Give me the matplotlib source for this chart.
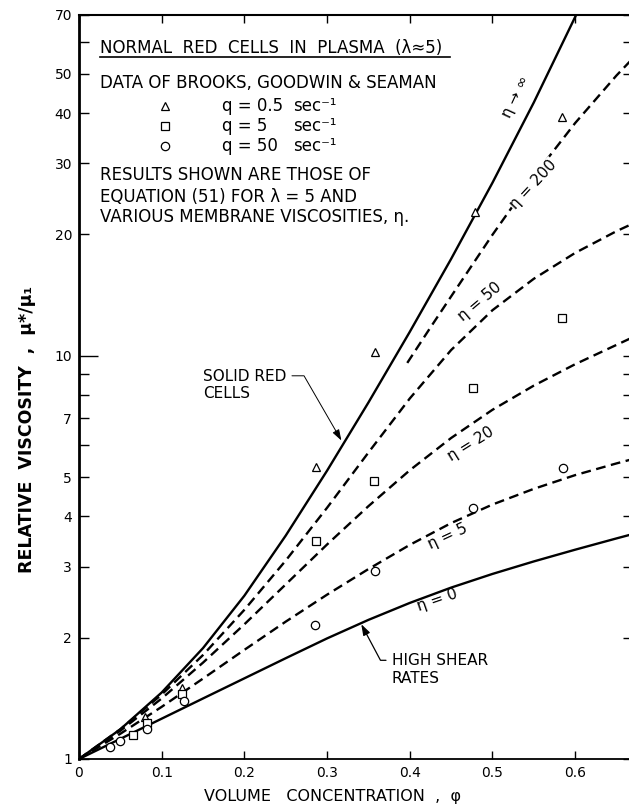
import matplotlib.pyplot as plt
from matplotlib.ticker import FixedLocator, NullFormatter

plt.rcParams['font.family'] = ['DejaVu Sans']
plt.rcParams['lines.scale_dashes'] = False

# --- curves (volume concentration phi vs relative viscosity) ---
phi = [0, 0.05, 0.1, 0.15, 0.2, 0.25, 0.3, 0.35, 0.4, 0.45, 0.5, 0.55, 0.6, 0.65, 0.67]

phi_inf = [0, 0.05, 0.1, 0.15, 0.2, 0.25, 0.3, 0.35, 0.4, 0.45, 0.5, 0.55, 0.6, 0.605]
mu_inf = [1, 1.185, 1.462, 1.884, 2.541, 3.581, 5.188, 7.656, 11.46, 17.38, 26.85, 42.46, 69.2, 72.8]

mu_0 = [1, 1.122, 1.259, 1.413, 1.585, 1.778, 1.991, 2.213, 2.438, 2.661, 2.877, 3.090, 3.304, 3.524, 3.614]
mu_5 = [1, 1.155, 1.347, 1.583, 1.865, 2.191, 2.556, 2.958, 3.396, 3.846, 4.276, 4.677, 5.058, 5.408, 5.546]
mu_20 = [1, 1.175, 1.413, 1.734, 2.158, 2.710, 3.404, 4.236, 5.200, 6.252, 7.345, 8.433, 9.528, 10.64, 11.12]
mu_50 = [1, 1.185, 1.445, 1.811, 2.344, 3.105, 4.198, 5.754, 7.834, 10.33, 12.97, 15.52, 17.99, 20.37, 21.28]

phi_200 = [0.397, 0.425, 0.45, 0.5, 0.55, 0.6, 0.65, 0.67]
mu_200 = [9.6, 11.75, 14.03, 19.95, 27.86, 37.76, 49.55, 54.7]

# --- data of Brooks, Goodwin & Seaman ---
tri_x = [0.08, 0.124, 0.287, 0.358, 0.479, 0.584]
tri_y = [1.27, 1.50, 5.3, 10.2, 22.7, 39.2]
sq_x = [0.065, 0.082, 0.125, 0.287, 0.357, 0.477, 0.584]
sq_y = [1.15, 1.23, 1.45, 3.47, 4.9, 8.33, 12.4]
circ_x = [0.037, 0.05, 0.082, 0.127, 0.285, 0.358, 0.476, 0.585]
circ_y = [1.07, 1.11, 1.19, 1.39, 2.15, 2.93, 4.19, 5.27]

yticks = [1, 2, 3, 4, 5, 7, 10, 20, 30, 40, 50, 70]
yminor = [6, 8, 9, 60]
xticks = [0, 0.1, 0.2, 0.3, 0.4, 0.5, 0.6]
xticklabels = ['0', '0.1', '0.2', '0.3', '0.4', '0.5', '0.6']

fig = plt.figure(figsize=(6.29, 8.10), dpi=100)
ax = fig.add_axes([79 / 629, 51 / 810, 554 / 629, 744 / 810])
ax.set_yscale('log')
ax.set_xlim(0, 0.67)
ax.set_ylim(1, 70)

# curves
ax.plot(phi_inf, mu_inf, color='black', lw=1.7)
ax.plot(phi, mu_0, color='black', lw=1.7)
dash = (0, (7, 4))
for px, py in [(phi, mu_5), (phi, mu_20), (phi, mu_50), (phi_200, mu_200)]:
    ax.plot(px, py, color='black', lw=1.7, ls=dash)

# data points
mk = dict(ls='none', mfc='white', mec='black', mew=0.9, ms=6, zorder=5)
ax.plot(tri_x, tri_y, marker='^', **mk)
ax.plot(sq_x, sq_y, marker='s', **mk)
ax.plot(circ_x, circ_y, marker='o', **mk)

# ticks
ax.set_yticks(yticks)
ax.set_yticklabels([str(v) for v in yticks])
ax.yaxis.set_minor_locator(FixedLocator(yminor))
ax.yaxis.set_minor_formatter(NullFormatter())
ax.set_xticks(xticks)
ax.set_xticklabels(xticklabels)
ax.tick_params(which='both', direction='in', top=True, right=True,
               length=7, width=1.0, labelsize=10, pad=5)
ax.tick_params(axis='x', length=6)
for t, v in zip(ax.yaxis.get_major_ticks(), yticks):
    if v == 10:
        t.tick1line.set_markersize(14)

ax.spines['left'].set_linewidth(2.0)
ax.spines['bottom'].set_linewidth(1.3)
ax.spines['top'].set_linewidth(1.5)
ax.spines['right'].set_linewidth(1.5)

# axis labels
ax.set_xlabel('VOLUME   CONCENTRATION  ,  φ', fontsize=11.5, va='center')
ax.xaxis.set_label_coords(0.457, -0.051)
ax.set_ylabel('RELATIVE  VISCOSITY  ,  μ*/μ₁', fontsize=12.5, fontweight='bold', va='center')
ax.yaxis.set_label_coords(-0.094, 0.4435)

# header text block
fs = 12
ax.text(0.038, 0.9556, 'NORMAL  RED  CELLS  IN  PLASMA  (λ≈5)', transform=ax.transAxes,
        fontsize=fs, va='center', ha='left')
ax.axhline(55.2, xmin=0.038, xmax=0.67, color='black', lw=1.2)
ax.text(0.038, 0.9086, 'DATA OF BROOKS, GOODWIN & SEAMAN', transform=ax.transAxes,
        fontsize=fs, va='center', ha='left')

key_y = [0.8777, 0.8508, 0.8239]
key_marker = ['^', 's', 'o']
key_q = ['q = 0.5', 'q = 5', 'q = 50']
for yy, m, q in zip(key_y, key_marker, key_q):
    ax.plot([0.1552], [yy], marker=m, transform=ax.transAxes, clip_on=False, **mk)
    ax.text(0.2581, yy, q, transform=ax.transAxes, fontsize=fs, va='center', ha='left')
    ax.text(0.3863, yy, 'sec⁻¹', transform=ax.transAxes, fontsize=fs, va='center', ha='left')

for yy, line in zip([0.7849, 0.7554, 0.7285],
                    ['RESULTS SHOWN ARE THOSE OF',
                     'EQUATION (51) FOR λ = 5 AND',
                     'VARIOUS MEMBRANE VISCOSITIES, η.']):
    ax.text(0.038, yy, line, transform=ax.transAxes, fontsize=fs, va='center', ha='left')

# curve labels
lab = dict(fontsize=11, ha='center', va='center', rotation_mode='anchor', zorder=4)
ax.text(0.528, 43.9, 'η → ∞', rotation=65, **lab)
ax.text(0.549, 26.6, 'η = 200', rotation=47, bbox=dict(fc='white', ec='none', pad=0.5), **lab)
ax.text(0.485, 13.6, 'η = 50', rotation=40, **lab)
ax.text(0.474, 6.05, 'η = 20', rotation=32, **lab)
ax.text(0.446, 3.56, 'η = 5', rotation=25, **lab)
ax.text(0.433, 2.48, 'η = 0', rotation=19, **lab)

# callouts
ax.annotate('SOLID RED\nCELLS', xy=(0.319, 6.08), xytext=(0.150, 9.29),
            ha='left', va='top', fontsize=11,
            arrowprops=dict(arrowstyle='-|>,head_length=0.6,head_width=0.2', lw=0.7,
                            color='black', relpos=(1, 0.78),
                            connectionstyle='angle,angleA=0,angleB=120,rad=0'))
ax.annotate('HIGH SHEAR\nRATES', xy=(0.3398, 2.19), xytext=(0.378, 1.83),
            ha='left', va='top', fontsize=11,
            arrowprops=dict(arrowstyle='-|>,head_length=0.6,head_width=0.2', lw=0.9,
                            color='black', relpos=(0, 0.78),
                            connectionstyle='angle,angleA=180,angleB=118,rad=0'))

fig.savefig('out.png', dpi=100)
